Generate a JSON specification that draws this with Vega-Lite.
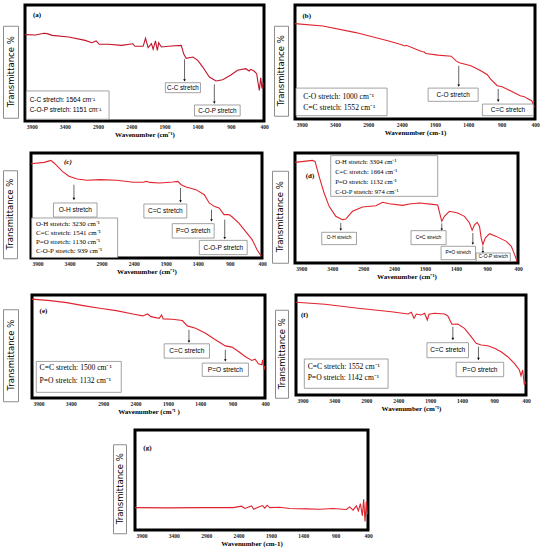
{
  "$schema": "https://vega.github.io/schema/vega-lite/v6.json",
  "description": "FTIR spectra of seven samples, panels (a) to (g)",
  "padding": {"left": 2, "top": 3, "right": 1, "bottom": 1},
  "background": "white",
  "datasets": {
    "spectra": [
      {"p": "a", "wn": 4000, "t": 74.5}, {"p": "a", "wn": 3840, "t": 74.1}, {"p": "a", "wn": 3716, "t": 75.6}, {"p": "a", "wn": 3666, "t": 75.3},
      {"p": "a", "wn": 3591, "t": 73.8}, {"p": "a", "wn": 3342, "t": 72.4}, {"p": "a", "wn": 3093, "t": 69.5}, {"p": "a", "wn": 2993, "t": 67.5},
      {"p": "a", "wn": 2928, "t": 69.0}, {"p": "a", "wn": 2883, "t": 66.1}, {"p": "a", "wn": 2744, "t": 66.1}, {"p": "a", "wn": 2544, "t": 65.2},
      {"p": "a", "wn": 2375, "t": 66.6}, {"p": "a", "wn": 2345, "t": 64.4}, {"p": "a", "wn": 2220, "t": 64.4}, {"p": "a", "wn": 2185, "t": 71.3},
      {"p": "a", "wn": 2145, "t": 63.2}, {"p": "a", "wn": 2095, "t": 66.7}, {"p": "a", "wn": 2070, "t": 61.8}, {"p": "a", "wn": 2035, "t": 69.0},
      {"p": "a", "wn": 2006, "t": 60.9}, {"p": "a", "wn": 1986, "t": 67.5}, {"p": "a", "wn": 1946, "t": 63.8}, {"p": "a", "wn": 1796, "t": 64.7},
      {"p": "a", "wn": 1647, "t": 65.2}, {"p": "a", "wn": 1607, "t": 57.5}, {"p": "a", "wn": 1572, "t": 54.0}, {"p": "a", "wn": 1472, "t": 55.2},
      {"p": "a", "wn": 1397, "t": 52.3}, {"p": "a", "wn": 1322, "t": 46.5}, {"p": "a", "wn": 1223, "t": 37.9}, {"p": "a", "wn": 1123, "t": 34.5},
      {"p": "a", "wn": 1023, "t": 35.6}, {"p": "a", "wn": 899, "t": 39.6}, {"p": "a", "wn": 799, "t": 43.7}, {"p": "a", "wn": 674, "t": 45.1},
      {"p": "a", "wn": 624, "t": 43.1}, {"p": "a", "wn": 600, "t": 44.5}, {"p": "a", "wn": 550, "t": 43.1}, {"p": "a", "wn": 510, "t": 40.8},
      {"p": "a", "wn": 490, "t": 33.0}, {"p": "a", "wn": 470, "t": 26.4}, {"p": "a", "wn": 450, "t": 37.3}, {"p": "a", "wn": 430, "t": 28.1},
      {"p": "a", "wn": 410, "t": 33.0},

      {"p": "b", "wn": 4000, "t": 83.7}, {"p": "b", "wn": 3581, "t": 81.6}, {"p": "b", "wn": 3088, "t": 75.8}, {"p": "b", "wn": 2594, "t": 68.5},
      {"p": "b", "wn": 2400, "t": 65.2}, {"p": "b", "wn": 2348, "t": 64.1}, {"p": "b", "wn": 2330, "t": 64.6}, {"p": "b", "wn": 2101, "t": 59.2},
      {"p": "b", "wn": 2060, "t": 58.7}, {"p": "b", "wn": 2040, "t": 57.5}, {"p": "b", "wn": 1855, "t": 56.0}, {"p": "b", "wn": 1657, "t": 55.1},
      {"p": "b", "wn": 1583, "t": 51.0}, {"p": "b", "wn": 1534, "t": 49.3}, {"p": "b", "wn": 1361, "t": 46.7}, {"p": "b", "wn": 1213, "t": 42.3},
      {"p": "b", "wn": 1115, "t": 38.8}, {"p": "b", "wn": 1066, "t": 35.0}, {"p": "b", "wn": 967, "t": 29.2}, {"p": "b", "wn": 893, "t": 28.3},
      {"p": "b", "wn": 770, "t": 24.8}, {"p": "b", "wn": 622, "t": 20.4}, {"p": "b", "wn": 560, "t": 19.6}, {"p": "b", "wn": 523, "t": 18.1},
      {"p": "b", "wn": 449, "t": 16.0}, {"p": "b", "wn": 409, "t": 10.2},

      {"p": "c", "wn": 4000, "t": 89.8}, {"p": "c", "wn": 3794, "t": 91.1}, {"p": "c", "wn": 3691, "t": 93.0}, {"p": "c", "wn": 3640, "t": 90.5},
      {"p": "c", "wn": 3511, "t": 82.5}, {"p": "c", "wn": 3409, "t": 77.8}, {"p": "c", "wn": 3280, "t": 75.2}, {"p": "c", "wn": 3126, "t": 74.0},
      {"p": "c", "wn": 2920, "t": 74.6}, {"p": "c", "wn": 2663, "t": 74.0}, {"p": "c", "wn": 2406, "t": 72.1}, {"p": "c", "wn": 2250, "t": 72.2},
      {"p": "c", "wn": 2200, "t": 73.0}, {"p": "c", "wn": 2150, "t": 72.0}, {"p": "c", "wn": 1994, "t": 71.4}, {"p": "c", "wn": 1789, "t": 72.4},
      {"p": "c", "wn": 1711, "t": 73.0}, {"p": "c", "wn": 1660, "t": 69.8}, {"p": "c", "wn": 1583, "t": 67.6}, {"p": "c", "wn": 1429, "t": 65.1},
      {"p": "c", "wn": 1300, "t": 60.3}, {"p": "c", "wn": 1223, "t": 52.4}, {"p": "c", "wn": 1146, "t": 49.2}, {"p": "c", "wn": 1069, "t": 47.6},
      {"p": "c", "wn": 991, "t": 41.3}, {"p": "c", "wn": 914, "t": 41.3}, {"p": "c", "wn": 863, "t": 39.0}, {"p": "c", "wn": 760, "t": 33.3},
      {"p": "c", "wn": 657, "t": 25.4}, {"p": "c", "wn": 554, "t": 17.5}, {"p": "c", "wn": 477, "t": 7.9}, {"p": "c", "wn": 410, "t": 1.6},

      {"p": "d", "wn": 4000, "t": 91.5}, {"p": "d", "wn": 3719, "t": 93.3}, {"p": "d", "wn": 3676, "t": 92.4}, {"p": "d", "wn": 3611, "t": 78.8},
      {"p": "d", "wn": 3530, "t": 63.6}, {"p": "d", "wn": 3449, "t": 51.5}, {"p": "d", "wn": 3342, "t": 42.4}, {"p": "d", "wn": 3234, "t": 39.4},
      {"p": "d", "wn": 3180, "t": 40.0}, {"p": "d", "wn": 3072, "t": 47.0}, {"p": "d", "wn": 2910, "t": 50.9}, {"p": "d", "wn": 2694, "t": 52.1},
      {"p": "d", "wn": 2586, "t": 55.2}, {"p": "d", "wn": 2478, "t": 53.9}, {"p": "d", "wn": 2262, "t": 52.4}, {"p": "d", "wn": 2154, "t": 53.6},
      {"p": "d", "wn": 1992, "t": 54.5}, {"p": "d", "wn": 1776, "t": 53.3}, {"p": "d", "wn": 1696, "t": 52.7}, {"p": "d", "wn": 1658, "t": 43.9},
      {"p": "d", "wn": 1631, "t": 37.9}, {"p": "d", "wn": 1588, "t": 42.4}, {"p": "d", "wn": 1507, "t": 47.0}, {"p": "d", "wn": 1372, "t": 45.5},
      {"p": "d", "wn": 1264, "t": 42.4}, {"p": "d", "wn": 1183, "t": 36.4}, {"p": "d", "wn": 1140, "t": 29.7}, {"p": "d", "wn": 1102, "t": 34.8},
      {"p": "d", "wn": 1059, "t": 37.0}, {"p": "d", "wn": 1021, "t": 33.3}, {"p": "d", "wn": 994, "t": 22.7}, {"p": "d", "wn": 967, "t": 16.7},
      {"p": "d", "wn": 929, "t": 22.7}, {"p": "d", "wn": 859, "t": 26.7}, {"p": "d", "wn": 751, "t": 24.2}, {"p": "d", "wn": 589, "t": 19.7},
      {"p": "d", "wn": 508, "t": 15.2}, {"p": "d", "wn": 454, "t": 7.6}, {"p": "d", "wn": 416, "t": 1.5},

      {"p": "e", "wn": 4000, "t": 96.0}, {"p": "e", "wn": 3719, "t": 94.5}, {"p": "e", "wn": 3464, "t": 92.6}, {"p": "e", "wn": 3209, "t": 89.7},
      {"p": "e", "wn": 2953, "t": 87.1}, {"p": "e", "wn": 2698, "t": 84.8}, {"p": "e", "wn": 2443, "t": 81.6}, {"p": "e", "wn": 2289, "t": 79.7},
      {"p": "e", "wn": 2213, "t": 81.6}, {"p": "e", "wn": 2162, "t": 79.0}, {"p": "e", "wn": 2034, "t": 77.4}, {"p": "e", "wn": 1998, "t": 80.6},
      {"p": "e", "wn": 1973, "t": 76.8}, {"p": "e", "wn": 1830, "t": 76.5}, {"p": "e", "wn": 1677, "t": 75.2}, {"p": "e", "wn": 1600, "t": 70.0},
      {"p": "e", "wn": 1473, "t": 67.7}, {"p": "e", "wn": 1319, "t": 62.9}, {"p": "e", "wn": 1166, "t": 56.5}, {"p": "e", "wn": 1013, "t": 50.6},
      {"p": "e", "wn": 911, "t": 49.4}, {"p": "e", "wn": 809, "t": 45.2}, {"p": "e", "wn": 707, "t": 40.3}, {"p": "e", "wn": 604, "t": 36.5},
      {"p": "e", "wn": 553, "t": 37.7}, {"p": "e", "wn": 502, "t": 33.2}, {"p": "e", "wn": 451, "t": 32.3}, {"p": "e", "wn": 436, "t": 37.1},
      {"p": "e", "wn": 416, "t": 27.4}, {"p": "e", "wn": 405, "t": 31.0},

      {"p": "f", "wn": 4000, "t": 92.7}, {"p": "f", "wn": 3547, "t": 90.7}, {"p": "f", "wn": 3027, "t": 86.7}, {"p": "f", "wn": 2507, "t": 83.3},
      {"p": "f", "wn": 2247, "t": 81.0}, {"p": "f", "wn": 2195, "t": 82.7}, {"p": "f", "wn": 2153, "t": 76.7}, {"p": "f", "wn": 2117, "t": 81.0},
      {"p": "f", "wn": 2039, "t": 80.0}, {"p": "f", "wn": 1987, "t": 81.7}, {"p": "f", "wn": 1945, "t": 75.0}, {"p": "f", "wn": 1919, "t": 80.7},
      {"p": "f", "wn": 1831, "t": 81.7}, {"p": "f", "wn": 1675, "t": 81.0}, {"p": "f", "wn": 1623, "t": 79.0}, {"p": "f", "wn": 1560, "t": 70.7},
      {"p": "f", "wn": 1467, "t": 71.0}, {"p": "f", "wn": 1363, "t": 66.7}, {"p": "f", "wn": 1259, "t": 58.3}, {"p": "f", "wn": 1180, "t": 51.7},
      {"p": "f", "wn": 1102, "t": 50.0}, {"p": "f", "wn": 998, "t": 49.3}, {"p": "f", "wn": 894, "t": 46.7}, {"p": "f", "wn": 790, "t": 43.3},
      {"p": "f", "wn": 686, "t": 38.3}, {"p": "f", "wn": 582, "t": 31.7}, {"p": "f", "wn": 504, "t": 25.0}, {"p": "f", "wn": 478, "t": 19.3},
      {"p": "f", "wn": 452, "t": 25.0}, {"p": "f", "wn": 426, "t": 10.0}, {"p": "f", "wn": 405, "t": 13.3},

      {"p": "g", "wn": 4000, "t": 22.4}, {"p": "g", "wn": 3511, "t": 22.1}, {"p": "g", "wn": 2997, "t": 22.4}, {"p": "g", "wn": 2483, "t": 22.4},
      {"p": "g", "wn": 2354, "t": 23.8}, {"p": "g", "wn": 2303, "t": 21.5}, {"p": "g", "wn": 2200, "t": 24.1}, {"p": "g", "wn": 2164, "t": 20.8},
      {"p": "g", "wn": 2071, "t": 23.4}, {"p": "g", "wn": 2030, "t": 24.4}, {"p": "g", "wn": 1994, "t": 21.8}, {"p": "g", "wn": 1958, "t": 24.8},
      {"p": "g", "wn": 1917, "t": 22.4}, {"p": "g", "wn": 1763, "t": 22.8}, {"p": "g", "wn": 1609, "t": 21.5}, {"p": "g", "wn": 1351, "t": 21.1},
      {"p": "g", "wn": 1146, "t": 20.8}, {"p": "g", "wn": 940, "t": 21.5}, {"p": "g", "wn": 734, "t": 20.5}, {"p": "g", "wn": 683, "t": 23.1},
      {"p": "g", "wn": 631, "t": 19.8}, {"p": "g", "wn": 580, "t": 24.1}, {"p": "g", "wn": 549, "t": 19.1}, {"p": "g", "wn": 518, "t": 26.4},
      {"p": "g", "wn": 487, "t": 14.2}, {"p": "g", "wn": 467, "t": 30.7}, {"p": "g", "wn": 446, "t": 8.6}, {"p": "g", "wn": 426, "t": 28.4},
      {"p": "g", "wn": 410, "t": 15.8}
    ],
    "boxes": [
      {"p": "a", "wn": 1886, "wn2": 1357, "t": 24.4, "t2": 33.0},
      {"p": "a", "wn": 1447, "wn2": 759, "t": 4.3, "t2": 13.8},
      {"p": "a", "wn": 3980, "wn2": 2734, "t": 1.5, "t2": 25.9},
      {"p": "b", "wn": 2003, "wn2": 1253, "t": 15.5, "t2": 27.1},
      {"p": "b", "wn": 1189, "wn2": 424, "t": 2.9, "t2": 13.1},
      {"p": "b", "wn": 3985, "wn2": 2619, "t": 2.9, "t2": 27.1},
      {"p": "c", "wn": 3650, "wn2": 2971, "t": 39.0, "t2": 52.4},
      {"p": "c", "wn": 2241, "wn2": 1572, "t": 38.1, "t2": 51.4},
      {"p": "c", "wn": 1799, "wn2": 1146, "t": 19.0, "t2": 32.7},
      {"p": "c", "wn": 1377, "wn2": 631, "t": 3.2, "t2": 16.8},
      {"p": "c", "wn": 3990, "wn2": 2650, "t": 0.5, "t2": 38.1},
      {"p": "d", "wn": 3423, "wn2": 1696, "t": 60.6, "t2": 97.6},
      {"p": "d", "wn": 3568, "wn2": 3007, "t": 16.7, "t2": 27.9},
      {"p": "d", "wn": 2127, "wn2": 1561, "t": 16.7, "t2": 29.4},
      {"p": "d", "wn": 1642, "wn2": 1086, "t": 3.0, "t2": 15.2},
      {"p": "d", "wn": 1075, "wn2": 524, "t": 1.5, "t2": 9.1},
      {"p": "e", "wn": 1958, "wn2": 1258, "t": 38.7, "t2": 52.6},
      {"p": "e", "wn": 1370, "wn2": 656, "t": 21.0, "t2": 33.9},
      {"p": "e", "wn": 3934, "wn2": 2621, "t": 5.5, "t2": 35.5},
      {"p": "f", "wn": 1950, "wn2": 1300, "t": 37.3, "t2": 52.3},
      {"p": "f", "wn": 1493, "wn2": 749, "t": 18.3, "t2": 32.7},
      {"p": "f", "wn": 3870, "wn2": 2559, "t": 6.7, "t2": 36.0}
    ],
    "labels": [
      {"p": "a", "wn": 1621, "t": 28.7, "text": "C-C stretch"},
      {"p": "a", "wn": 1103, "t": 9.0, "text": "C-O-P stretch"},
      {"p": "b", "wn": 1628, "t": 21.3, "text": "C-O stretch"},
      {"p": "b", "wn": 806, "t": 8.0, "text": "C=C stretch"},
      {"p": "c", "wn": 3310, "t": 45.7, "text": "O-H stretch"},
      {"p": "c", "wn": 1906, "t": 44.8, "text": "C=C stretch"},
      {"p": "c", "wn": 1472, "t": 25.9, "text": "P=O stretch"},
      {"p": "c", "wn": 1004, "t": 10.0, "text": "C-O-P stretch"},
      {"p": "d", "wn": 3288, "t": 22.3, "text": "O-H stretch"},
      {"p": "d", "wn": 1844, "t": 23.0, "text": "C=C stretch"},
      {"p": "d", "wn": 1364, "t": 9.1, "text": "P=O stretch"},
      {"p": "d", "wn": 800, "t": 5.3, "text": "C-O-P stretch"},
      {"p": "e", "wn": 1608, "t": 45.6, "text": "C=C stretch"},
      {"p": "e", "wn": 1013, "t": 27.4, "text": "P=O stretch"},
      {"p": "f", "wn": 1625, "t": 44.8, "text": "C=C stretch"},
      {"p": "f", "wn": 1121, "t": 25.5, "text": "P=O stretch"}
    ],
    "notes": [
      {"p": "a", "wn": 3930, "t": 17.8, "text": "C-C stretch: 1564 cm⁻¹"},
      {"p": "a", "wn": 3930, "t": 9.2, "text": "C-O-P stretch: 1151 cm⁻¹"},
      {"p": "b", "wn": 3877, "t": 19.5, "text": "C-O stretch: 1000 cm⁻¹"},
      {"p": "b", "wn": 3877, "t": 9.6, "text": "C=C stretch: 1552 cm⁻¹"},
      {"p": "c", "wn": 3923, "t": 32.7, "text": "O-H stretch: 3230 cm⁻¹"},
      {"p": "c", "wn": 3923, "t": 23.8, "text": "C=C stretch: 1541 cm⁻¹"},
      {"p": "c", "wn": 3923, "t": 14.9, "text": "P=O stretch: 1130 cm⁻¹"},
      {"p": "c", "wn": 3923, "t": 6.3, "text": "C-O-P stretch: 939 cm⁻¹"},
      {"p": "d", "wn": 3352, "t": 91.5, "text": "O-H stretch: 3304 cm⁻¹"},
      {"p": "d", "wn": 3352, "t": 82.4, "text": "C=C stretch: 1664 cm⁻¹"},
      {"p": "d", "wn": 3352, "t": 73.3, "text": "P=O stretch: 1132 cm⁻¹"},
      {"p": "d", "wn": 3352, "t": 64.2, "text": "C-O-P stretch: 974 cm⁻¹"},
      {"p": "e", "wn": 3883, "t": 29.0, "text": "C=C stretch: 1500 cm⁻¹"},
      {"p": "e", "wn": 3883, "t": 16.1, "text": "P=O stretch: 1132 cm⁻¹"},
      {"p": "f", "wn": 3818, "t": 28.3, "text": "C=C stretch: 1552 cm⁻¹"},
      {"p": "f", "wn": 3818, "t": 16.7, "text": "P=O stretch: 1142 cm⁻¹"}
    ],
    "arrows": [
      {"p": "a", "wn": 1597, "t": 53.2, "t2": 35.0},
      {"p": "a", "wn": 1148, "t": 31.6, "t2": 15.8},
      {"p": "b", "wn": 1544, "t": 46.7, "t2": 29.2},
      {"p": "b", "wn": 952, "t": 26.3, "t2": 16.0},
      {"p": "c", "wn": 3331, "t": 69.8, "t2": 56.2},
      {"p": "c", "wn": 1670, "t": 66.7, "t2": 54.0},
      {"p": "c", "wn": 1187, "t": 46.0, "t2": 35.9},
      {"p": "c", "wn": 981, "t": 36.5, "t2": 19.0},
      {"p": "d", "wn": 3261, "t": 36.4, "t2": 30.3},
      {"p": "d", "wn": 1631, "t": 36.0, "t2": 30.5},
      {"p": "d", "wn": 1129, "t": 27.3, "t2": 17.6},
      {"p": "d", "wn": 967, "t": 15.0, "t2": 10.0},
      {"p": "e", "wn": 1575, "t": 66.1, "t2": 54.8},
      {"p": "e", "wn": 1013, "t": 46.8, "t2": 36.5},
      {"p": "f", "wn": 1545, "t": 68.3, "t2": 56.0},
      {"p": "f", "wn": 1144, "t": 48.3, "t2": 36.0}
    ],
    "tags": [
      {"p": "a", "wn": 3880, "t": 91.4, "text": "(a)"},
      {"p": "b", "wn": 3887, "t": 90.4, "text": "(b)"},
      {"p": "c", "wn": 3486, "t": 91.0, "text": "(c)"},
      {"p": "d", "wn": 3827, "t": 78.8, "text": "(d)"},
      {"p": "e", "wn": 3883, "t": 84.8, "text": "(e)"},
      {"p": "f", "wn": 3922, "t": 80.0, "text": "(f)"},
      {"p": "g", "wn": 3871, "t": 82.5, "text": "(g)"}
    ]
  },
  "vconcat": [
    {
      "spacing": 3,
      "hconcat": [
        {
          "spacing": 2,
          "center": true,
          "hconcat": [
            {"width": 15, "height": 92, "data": {"values": [{"s": "Transmittance %"}]}, "mark": {"type": "text", "angle": 270, "font": "DejaVu Sans", "fontSize": 8.5}, "encoding": {"text": {"field": "s"}}, "view": {"stroke": "#8c8c8c", "strokeWidth": 1}},
            {
              "width": 239, "height": 116,
              "encoding": {
                "x": {"field": "wn", "type": "quantitative", "scale": {"domain": [400, 4000], "reverse": true, "nice": false, "zero": false}, "axis": {"values": [3900, 3400, 2900, 2400, 1900, 1400, 900, 400], "format": "d", "title": "Wavenumber (cm⁻¹)"}},
                "y": {"field": "t", "type": "quantitative", "scale": {"domain": [0, 100], "nice": false, "zero": false}, "axis": null}
              },
              "layer": [
                {"data": {"name": "spectra"}, "transform": [{"filter": "datum.p == 'a'"}], "mark": {"type": "line", "color": "#c0142a", "strokeWidth": 1.1}, "encoding": {}},
                {"data": {"name": "boxes"}, "transform": [{"filter": "datum.p == 'a'"}], "mark": {"type": "rect", "fill": "white", "stroke": "#8c8c8c", "strokeWidth": 0.8}, "encoding": {"x2": {"field": "wn2"}, "y2": {"field": "t2"}}},
                {"data": {"name": "labels"}, "transform": [{"filter": "datum.p == 'a'"}], "mark": {"type": "text", "font": "Liberation Sans", "fontSize": 6.3}, "encoding": {"text": {"field": "text"}}},
                {"data": {"name": "notes"}, "transform": [{"filter": "datum.p == 'a'"}], "mark": {"type": "text", "align": "left", "font": "Liberation Sans", "fontSize": 6.5}, "encoding": {"text": {"field": "text"}}},
                {"data": {"name": "arrows"}, "transform": [{"filter": "datum.p == 'a'"}], "mark": {"type": "rule", "color": "black", "strokeWidth": 0.6}, "encoding": {"y2": {"field": "t2"}}},
                {"data": {"name": "arrows"}, "transform": [{"filter": "datum.p == 'a'"}], "mark": {"type": "point", "shape": "triangle-down", "filled": true, "color": "black", "size": 7, "opacity": 1}, "encoding": {"y": {"field": "t2", "type": "quantitative", "scale": {"domain": [0, 100], "nice": false, "zero": false}, "axis": null}}},
                {"data": {"name": "tags"}, "transform": [{"filter": "datum.p == 'a'"}], "mark": {"type": "text", "align": "left", "font": "Liberation Serif", "fontWeight": "bold", "fontSize": 7}, "encoding": {"text": {"field": "text"}}}
              ]
            }
          ]
        },
        {
          "spacing": 2,
          "center": true,
          "hconcat": [
            {"width": 14, "height": 90, "data": {"values": [{"s": "Transmittance %"}]}, "mark": {"type": "text", "angle": 270, "font": "DejaVu Sans", "fontSize": 8.5}, "encoding": {"text": {"field": "s"}}, "view": {"stroke": "#8c8c8c", "strokeWidth": 1}},
            {
              "width": 240, "height": 114,
              "encoding": {
                "x": {"field": "wn", "type": "quantitative", "scale": {"domain": [400, 4000], "reverse": true, "nice": false, "zero": false}, "axis": {"values": [3900, 3400, 2900, 2400, 1900, 1400, 900, 400], "format": "d", "title": "Wavenumber (cm-1)"}},
                "y": {"field": "t", "type": "quantitative", "scale": {"domain": [0, 100], "nice": false, "zero": false}, "axis": null}
              },
              "layer": [
                {"data": {"name": "spectra"}, "transform": [{"filter": "datum.p == 'b'"}], "mark": {"type": "line", "color": "#e0232d", "strokeWidth": 1.1}, "encoding": {}},
                {"data": {"name": "boxes"}, "transform": [{"filter": "datum.p == 'b'"}], "mark": {"type": "rect", "fill": "white", "stroke": "#8c8c8c", "strokeWidth": 0.8}, "encoding": {"x2": {"field": "wn2"}, "y2": {"field": "t2"}}},
                {"data": {"name": "labels"}, "transform": [{"filter": "datum.p == 'b'"}], "mark": {"type": "text", "font": "Liberation Sans", "fontSize": 6.5}, "encoding": {"text": {"field": "text"}}},
                {"data": {"name": "notes"}, "transform": [{"filter": "datum.p == 'b'"}], "mark": {"type": "text", "align": "left", "font": "Liberation Serif", "fontSize": 7.6}, "encoding": {"text": {"field": "text"}}},
                {"data": {"name": "arrows"}, "transform": [{"filter": "datum.p == 'b'"}], "mark": {"type": "rule", "color": "black", "strokeWidth": 0.6}, "encoding": {"y2": {"field": "t2"}}},
                {"data": {"name": "arrows"}, "transform": [{"filter": "datum.p == 'b'"}], "mark": {"type": "point", "shape": "triangle-down", "filled": true, "color": "black", "size": 7, "opacity": 1}, "encoding": {"y": {"field": "t2", "type": "quantitative", "scale": {"domain": [0, 100], "nice": false, "zero": false}, "axis": null}}},
                {"data": {"name": "tags"}, "transform": [{"filter": "datum.p == 'b'"}], "mark": {"type": "text", "align": "left", "font": "Liberation Serif", "fontWeight": "bold", "fontSize": 7}, "encoding": {"text": {"field": "text"}}}
              ]
            }
          ]
        }
      ]
    },
    {
      "spacing": 3,
      "hconcat": [
        {
          "spacing": 9,
          "center": true,
          "hconcat": [
            {"width": 14, "height": 88, "data": {"values": [{"s": "Transmittance %"}]}, "mark": {"type": "text", "angle": 270, "font": "DejaVu Sans", "fontSize": 8.5}, "encoding": {"text": {"field": "s"}}, "view": {"stroke": "#8c8c8c", "strokeWidth": 1}},
            {
              "width": 231, "height": 105,
              "encoding": {
                "x": {"field": "wn", "type": "quantitative", "scale": {"domain": [400, 4000], "reverse": true, "nice": false, "zero": false}, "axis": {"values": [3900, 3400, 2900, 2400, 1900, 1400, 900, 400], "format": "d", "title": "Wavenumber (cm⁻¹)"}},
                "y": {"field": "t", "type": "quantitative", "scale": {"domain": [0, 100], "nice": false, "zero": false}, "axis": null}
              },
              "layer": [
                {"data": {"name": "spectra"}, "transform": [{"filter": "datum.p == 'c'"}], "mark": {"type": "line", "color": "#e0232d", "strokeWidth": 1.1}, "encoding": {}},
                {"data": {"name": "boxes"}, "transform": [{"filter": "datum.p == 'c'"}], "mark": {"type": "rect", "fill": "white", "stroke": "#8c8c8c", "strokeWidth": 0.8}, "encoding": {"x2": {"field": "wn2"}, "y2": {"field": "t2"}}},
                {"data": {"name": "labels"}, "transform": [{"filter": "datum.p == 'c'"}], "mark": {"type": "text", "font": "Liberation Sans", "fontSize": 6.5}, "encoding": {"text": {"field": "text"}}},
                {"data": {"name": "notes"}, "transform": [{"filter": "datum.p == 'c'"}], "mark": {"type": "text", "align": "left", "font": "Liberation Serif", "fontSize": 6.9}, "encoding": {"text": {"field": "text"}}},
                {"data": {"name": "arrows"}, "transform": [{"filter": "datum.p == 'c'"}], "mark": {"type": "rule", "color": "black", "strokeWidth": 0.6}, "encoding": {"y2": {"field": "t2"}}},
                {"data": {"name": "arrows"}, "transform": [{"filter": "datum.p == 'c'"}], "mark": {"type": "point", "shape": "triangle-down", "filled": true, "color": "black", "size": 7, "opacity": 1}, "encoding": {"y": {"field": "t2", "type": "quantitative", "scale": {"domain": [0, 100], "nice": false, "zero": false}, "axis": null}}},
                {"data": {"name": "tags"}, "transform": [{"filter": "datum.p == 'c'"}], "mark": {"type": "text", "align": "left", "font": "Liberation Serif", "fontWeight": "bold", "fontStyle": "italic", "fontSize": 7}, "encoding": {"text": {"field": "text"}}}
              ]
            }
          ]
        },
        {
          "spacing": 2,
          "center": true,
          "hconcat": [
            {"width": 16, "height": 92, "data": {"values": [{"s": "Transmittance %"}]}, "mark": {"type": "text", "angle": 270, "font": "DejaVu Sans", "fontSize": 8.5}, "encoding": {"text": {"field": "s"}}, "view": {"stroke": "#8c8c8c", "strokeWidth": 1}},
            {
              "width": 223, "height": 110,
              "encoding": {
                "x": {"field": "wn", "type": "quantitative", "scale": {"domain": [400, 4000], "reverse": true, "nice": false, "zero": false}, "axis": {"values": [3900, 3400, 2900, 2400, 1900, 1400, 900, 400], "format": "d", "title": "Wavenumber (cm⁻¹)"}},
                "y": {"field": "t", "type": "quantitative", "scale": {"domain": [0, 100], "nice": false, "zero": false}, "axis": null}
              },
              "layer": [
                {"data": {"name": "spectra"}, "transform": [{"filter": "datum.p == 'd'"}], "mark": {"type": "line", "color": "#e0232d", "strokeWidth": 1.1}, "encoding": {}},
                {"data": {"name": "boxes"}, "transform": [{"filter": "datum.p == 'd'"}], "mark": {"type": "rect", "fill": "white", "stroke": "#8c8c8c", "strokeWidth": 0.8}, "encoding": {"x2": {"field": "wn2"}, "y2": {"field": "t2"}}},
                {"data": {"name": "labels"}, "transform": [{"filter": "datum.p == 'd'"}], "mark": {"type": "text", "font": "Liberation Sans", "fontSize": 4.8}, "encoding": {"text": {"field": "text"}}},
                {"data": {"name": "notes"}, "transform": [{"filter": "datum.p == 'd'"}], "mark": {"type": "text", "align": "left", "font": "Liberation Serif", "fontSize": 6.6}, "encoding": {"text": {"field": "text"}}},
                {"data": {"name": "arrows"}, "transform": [{"filter": "datum.p == 'd'"}], "mark": {"type": "rule", "color": "black", "strokeWidth": 0.6}, "encoding": {"y2": {"field": "t2"}}},
                {"data": {"name": "arrows"}, "transform": [{"filter": "datum.p == 'd'"}], "mark": {"type": "point", "shape": "triangle-down", "filled": true, "color": "black", "size": 6, "opacity": 1}, "encoding": {"y": {"field": "t2", "type": "quantitative", "scale": {"domain": [0, 100], "nice": false, "zero": false}, "axis": null}}},
                {"data": {"name": "tags"}, "transform": [{"filter": "datum.p == 'd'"}], "mark": {"type": "text", "align": "left", "font": "Liberation Serif", "fontWeight": "bold", "fontSize": 7}, "encoding": {"text": {"field": "text"}}}
              ]
            }
          ]
        }
      ]
    },
    {
      "spacing": 3,
      "hconcat": [
        {
          "spacing": 9,
          "center": true,
          "hconcat": [
            {"width": 15, "height": 92, "data": {"values": [{"s": "Transmittance %"}]}, "mark": {"type": "text", "angle": 270, "font": "DejaVu Sans", "fontSize": 8.5}, "encoding": {"text": {"field": "s"}}, "view": {"stroke": "#8c8c8c", "strokeWidth": 1}},
            {
              "width": 233, "height": 103,
              "encoding": {
                "x": {"field": "wn", "type": "quantitative", "scale": {"domain": [400, 4000], "reverse": true, "nice": false, "zero": false}, "axis": {"values": [3900, 3400, 2900, 2400, 1900, 1400, 900, 400], "format": "d", "title": "Wavenumber (cm⁻¹ )"}},
                "y": {"field": "t", "type": "quantitative", "scale": {"domain": [0, 100], "nice": false, "zero": false}, "axis": null}
              },
              "layer": [
                {"data": {"name": "spectra"}, "transform": [{"filter": "datum.p == 'e'"}], "mark": {"type": "line", "color": "#e0232d", "strokeWidth": 1.1}, "encoding": {}},
                {"data": {"name": "boxes"}, "transform": [{"filter": "datum.p == 'e'"}], "mark": {"type": "rect", "fill": "white", "stroke": "#8c8c8c", "strokeWidth": 0.8}, "encoding": {"x2": {"field": "wn2"}, "y2": {"field": "t2"}}},
                {"data": {"name": "labels"}, "transform": [{"filter": "datum.p == 'e'"}], "mark": {"type": "text", "font": "Liberation Sans", "fontSize": 6.6}, "encoding": {"text": {"field": "text"}}},
                {"data": {"name": "notes"}, "transform": [{"filter": "datum.p == 'e'"}], "mark": {"type": "text", "align": "left", "font": "Liberation Serif", "fontSize": 7.6}, "encoding": {"text": {"field": "text"}}},
                {"data": {"name": "arrows"}, "transform": [{"filter": "datum.p == 'e'"}], "mark": {"type": "rule", "color": "black", "strokeWidth": 0.6}, "encoding": {"y2": {"field": "t2"}}},
                {"data": {"name": "arrows"}, "transform": [{"filter": "datum.p == 'e'"}], "mark": {"type": "point", "shape": "triangle-down", "filled": true, "color": "black", "size": 7, "opacity": 1}, "encoding": {"y": {"field": "t2", "type": "quantitative", "scale": {"domain": [0, 100], "nice": false, "zero": false}, "axis": null}}},
                {"data": {"name": "tags"}, "transform": [{"filter": "datum.p == 'e'"}], "mark": {"type": "text", "align": "left", "font": "Liberation Serif", "fontWeight": "bold", "fontSize": 7}, "encoding": {"text": {"field": "text"}}}
              ]
            }
          ]
        },
        {
          "spacing": 3,
          "center": true,
          "hconcat": [
            {"width": 13, "height": 88, "data": {"values": [{"s": "Transmittance %"}]}, "mark": {"type": "text", "angle": 270, "font": "DejaVu Sans", "fontSize": 8.5}, "encoding": {"text": {"field": "s"}}, "view": {"stroke": "#8c8c8c", "strokeWidth": 1}},
            {
              "width": 230, "height": 100,
              "encoding": {
                "x": {"field": "wn", "type": "quantitative", "scale": {"domain": [400, 4000], "reverse": true, "nice": false, "zero": false}, "axis": {"values": [3900, 3400, 2900, 2400, 1900, 1400, 900, 400], "format": "d", "title": "Wavenumber (cm⁻¹)"}},
                "y": {"field": "t", "type": "quantitative", "scale": {"domain": [0, 100], "nice": false, "zero": false}, "axis": null}
              },
              "layer": [
                {"data": {"name": "spectra"}, "transform": [{"filter": "datum.p == 'f'"}], "mark": {"type": "line", "color": "#e0232d", "strokeWidth": 1.1}, "encoding": {}},
                {"data": {"name": "boxes"}, "transform": [{"filter": "datum.p == 'f'"}], "mark": {"type": "rect", "fill": "white", "stroke": "#8c8c8c", "strokeWidth": 0.8}, "encoding": {"x2": {"field": "wn2"}, "y2": {"field": "t2"}}},
                {"data": {"name": "labels"}, "transform": [{"filter": "datum.p == 'f'"}], "mark": {"type": "text", "font": "Liberation Sans", "fontSize": 6.6}, "encoding": {"text": {"field": "text"}}},
                {"data": {"name": "notes"}, "transform": [{"filter": "datum.p == 'f'"}], "mark": {"type": "text", "align": "left", "font": "Liberation Serif", "fontSize": 7.6}, "encoding": {"text": {"field": "text"}}},
                {"data": {"name": "arrows"}, "transform": [{"filter": "datum.p == 'f'"}], "mark": {"type": "rule", "color": "black", "strokeWidth": 0.6}, "encoding": {"y2": {"field": "t2"}}},
                {"data": {"name": "arrows"}, "transform": [{"filter": "datum.p == 'f'"}], "mark": {"type": "point", "shape": "triangle-down", "filled": true, "color": "black", "size": 7, "opacity": 1}, "encoding": {"y": {"field": "t2", "type": "quantitative", "scale": {"domain": [0, 100], "nice": false, "zero": false}, "axis": null}}},
                {"data": {"name": "tags"}, "transform": [{"filter": "datum.p == 'f'"}], "mark": {"type": "text", "align": "left", "font": "Liberation Serif", "fontWeight": "bold", "fontSize": 7}, "encoding": {"text": {"field": "text"}}}
              ]
            }
          ]
        }
      ]
    },
    {
      "spacing": 5,
      "hconcat": [
        {"width": 104, "height": 10, "data": {"values": [{}]}, "mark": {"type": "point", "opacity": 0}, "view": {"stroke": null}},
        {
          "spacing": 4,
          "center": true,
          "hconcat": [
            {"width": 13, "height": 89, "data": {"values": [{"s": "Transmittance %"}]}, "mark": {"type": "text", "angle": 270, "font": "DejaVu Sans", "fontSize": 8.5}, "encoding": {"text": {"field": "s"}}, "view": {"stroke": "#8c8c8c", "strokeWidth": 1}},
            {
              "width": 233, "height": 100,
              "encoding": {
                "x": {"field": "wn", "type": "quantitative", "scale": {"domain": [400, 4000], "reverse": true, "nice": false, "zero": false}, "axis": {"values": [3900, 3400, 2900, 2400, 1900, 1400, 900, 400], "format": "d", "title": "Wavenumber (cm-1)"}},
                "y": {"field": "t", "type": "quantitative", "scale": {"domain": [0, 100], "nice": false, "zero": false}, "axis": null}
              },
              "layer": [
                {"data": {"name": "spectra"}, "transform": [{"filter": "datum.p == 'g'"}], "mark": {"type": "line", "color": "#e0232d", "strokeWidth": 1.1}, "encoding": {}},
                {"data": {"name": "tags"}, "transform": [{"filter": "datum.p == 'g'"}], "mark": {"type": "text", "align": "left", "font": "Liberation Serif", "fontWeight": "bold", "fontSize": 7}, "encoding": {"text": {"field": "text"}}}
              ]
            }
          ]
        }
      ]
    }
  ],
  "spacing": 12,
  "config": {
    "view": {"stroke": "black", "strokeWidth": 3},
    "axisX": {
      "ticks": false, "domain": false, "grid": false,
      "labelFont": "Liberation Serif", "labelFontSize": 5.5, "labelFontWeight": "bold", "labelColor": "#222222", "labelPadding": 3, "labelFlush": false,
      "titleFont": "Liberation Serif", "titleFontSize": 7, "titleFontWeight": "bold", "titleColor": "black", "titlePadding": 1
    },
    "text": {"color": "black"}
  }
}
